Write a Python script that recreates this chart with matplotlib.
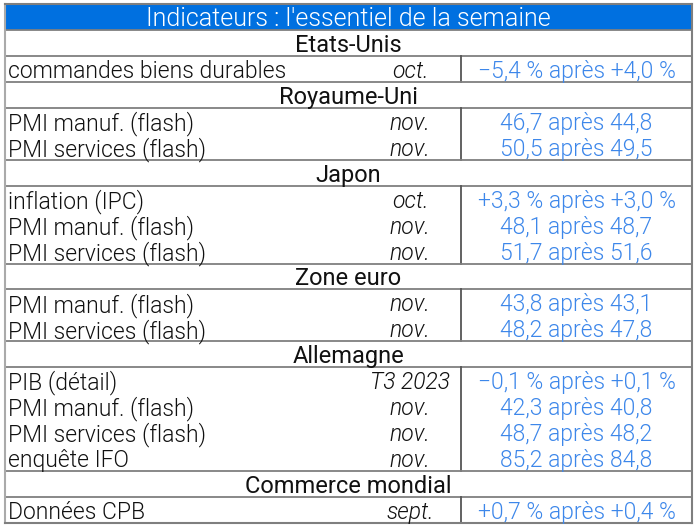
import matplotlib.pyplot as plt

# Contenu du tableau
title = "Indicateurs : l'essentiel de la semaine"
groups = ["Etats-Unis", "Royaume-Uni", "Japon", "Zone euro", "Allemagne", "Commerce mondial"]
labels = [
    ["commandes biens durables"],
    ["PMI manuf. (flash)", "PMI services (flash)"],
    ["inflation (IPC)", "PMI manuf. (flash)", "PMI services (flash)"],
    ["PMI manuf. (flash)", "PMI services (flash)"],
    ["PIB (détail)", "PMI manuf. (flash)", "PMI services (flash)", "enquête IFO"],
    ["Données CPB"],
]
periods = [
    ["oct."],
    ["nov.", "nov."],
    ["oct.", "nov.", "nov."],
    ["nov.", "nov."],
    ["T3 2023", "nov.", "nov.", "nov."],
    ["sept."],
]
values = [
    ["\u22125,4 % après +4,0 %"],
    ["46,7 après 44,8", "50,5 après 49,5"],
    ["+3,3 % après +3,0 %", "48,1 après 48,7", "51,7 après 51,6"],
    ["43,8 après 43,1", "48,2 après 47,8"],
    ["\u22120,1 % après +0,1 %", "42,3 après 40,8", "48,7 après 48,2", "85,2 après 84,8"],
    ["+0,7 % après +0,4 %"],
]

W, H = 697, 531
x0, x1 = 5, 692
xsep = 461
y0, y1 = 4, 523
nrows = 1 + len(groups) + sum(len(l) for l in labels)
rh = (y1 - y0) / nrows

blue = "#0070e0"
txtblue = "#3d87ea"
gris = "#7f7f7f"
fs = 16.5

fig = plt.figure(figsize=(W / 100, H / 100), dpi=100)
ax = fig.add_axes([0, 0, 1, 1])
ax.set_xlim(0, W)
ax.set_ylim(H, 0)
ax.axis("off")

def ycen(i):
    return y0 + (i + 0.5) * rh

# bandeau titre
ax.add_patch(plt.Rectangle((x0, y0), x1 - x0, rh, color=blue, lw=0))
ax.text((x0 + x1) / 2, ycen(0), title, color="white", fontsize=18,
        family="Roboto", weight=300, ha="center", va="center_baseline")

row = 1
for g, labs, pers, vals in zip(groups, labels, periods, values):
    ytop = y0 + row * rh
    ax.plot([x0, x1], [ytop, ytop], color=gris, lw=1.3)
    ax.text((x0 + x1) / 2, ycen(row), g, fontsize=17, family="Roboto",
            ha="center", va="center_baseline", color="#111111")
    row += 1
    ax.plot([x0, x1], [y0 + row * rh] * 2, color=gris, lw=1.3)
    start = row
    for lab, per, val in zip(labs, pers, vals):
        yc = ycen(row)
        ax.text(8, yc, lab, fontsize=fs, family="Roboto", weight=300,
                ha="left", va="center_baseline", color="#111111")
        ax.text(410, yc, per, fontsize=fs, family="Roboto", weight=300,
                style="italic", ha="center", va="center_baseline", color="#111111")
        ax.text((xsep + x1) / 2, yc, val, fontsize=fs, family="Roboto",
                weight=300, ha="center", va="center_baseline", color=txtblue)
        row += 1
    ax.plot([xsep, xsep], [y0 + start * rh, y0 + row * rh], color="#555555", lw=1.3)

# cadre
ax.plot([x0, x0], [y0, y1], color="#aaaaaa", lw=1.5)
ax.plot([x1, x1], [y0, y1], color=gris, lw=1.5)
ax.plot([x0, x1], [y0, y0], color=gris, lw=1.5)
ax.plot([x0, x1], [y1, y1], color=gris, lw=1.5)

fig.savefig("out.png", dpi=100)
